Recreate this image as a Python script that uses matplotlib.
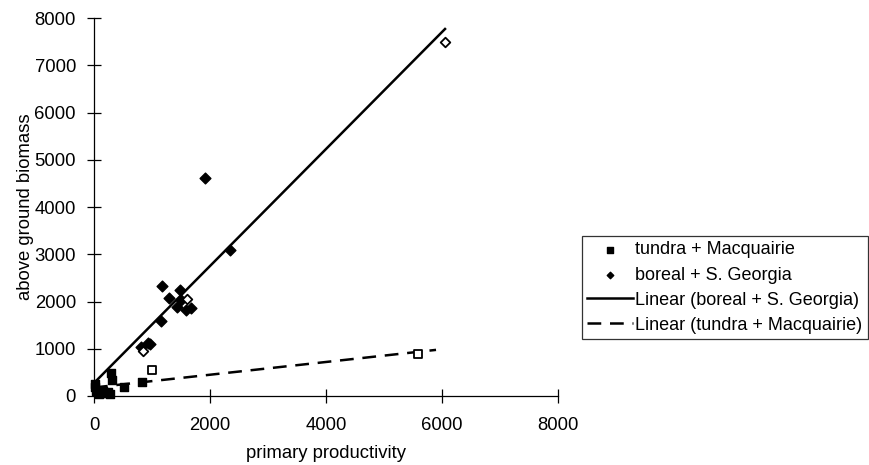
import matplotlib
matplotlib.use("Agg")
import matplotlib.pyplot as plt
import numpy as np

plt.rcParams['font.family'] = ['Liberation Sans', 'DejaVu Sans']

# data
tundra_x = [10, 20, 40, 80, 120, 150, 200, 250, 280, 300, 305, 510, 830]
tundra_y = [250, 180, 100, 50, 60, 100, 60, 90, 40, 480, 340, 200, 300]
tundra_open_x = [1000, 5590]
tundra_open_y = [550, 880]

boreal_x = [1914, 2350, 1172, 1477, 1299, 1500, 1431, 1586, 1672, 1155, 931, 960, 805]
boreal_y = [4620, 3090, 2335, 2250, 2067, 2040, 1884, 1820, 1855, 1580, 1128, 1090, 1044]
boreal_open_x = [1603, 839, 6052]
boreal_open_y = [2053, 946, 7500]

# linear trend lines: (intercept, slope, x_end)
boreal_fit = (275, 1.238, 6052)
tundra_fit = (180, 0.135, 5897)

x_ticks = [0, 2000, 4000, 6000, 8000]
y_ticks = [0, 1000, 2000, 3000, 4000, 5000, 6000, 7000, 8000]

fig = plt.figure(figsize=(8.7, 4.65), dpi=100)
ax = fig.add_axes([94/870, 1-396/465, (558-94)/870, (396-18)/465])

fs = 13.3
ax.scatter(tundra_x, tundra_y, marker='s', s=40, color='black', zorder=3,
           label='tundra + Macquairie', clip_on=False)
ax.scatter(boreal_x, boreal_y, marker='D', s=30, color='black', zorder=3,
           label='boreal + S. Georgia', clip_on=False)
ax.scatter(tundra_open_x, tundra_open_y, marker='s', s=40, facecolor='white',
           edgecolor='black', linewidth=1.3, zorder=3)
ax.scatter(boreal_open_x, boreal_open_y, marker='D', s=24, facecolor='white',
           edgecolor='black', linewidth=1.3, zorder=3)

bx = np.array([0, boreal_fit[2]])
ax.plot(bx, boreal_fit[0] + boreal_fit[1]*bx, color='black', lw=1.8,
        label='Linear (boreal + S. Georgia)', zorder=2)
tx = np.array([0, tundra_fit[2]])
ax.plot(tx, tundra_fit[0] + tundra_fit[1]*tx, color='black', lw=1.8,
        dashes=(5.5, 3.5), label='Linear (tundra + Macquairie)', zorder=2)

ax.set_xlim(0, 8000)
ax.set_ylim(0, 8000)
ax.set_xticks(x_ticks)
ax.set_yticks(y_ticks)
ax.tick_params(direction='inout', length=10, width=0.9, labelsize=fs)
ax.tick_params(axis='x', pad=10)
ax.tick_params(axis='y', pad=8)
for s in ['top', 'right']:
    ax.spines[s].set_visible(False)
for s in ['left', 'bottom']:
    ax.spines[s].set_linewidth(0.9)
ax.set_xlabel('primary productivity', fontsize=fs, labelpad=8)
ax.set_ylabel('above ground biomass', fontsize=fs, labelpad=0)

h, l = ax.get_legend_handles_labels()
leg = fig.legend(h, l,
                 loc='upper left', bbox_to_anchor=(582/870, 1-236/465),
                 fontsize=13, frameon=True, fancybox=False, edgecolor='black',
                 handlelength=2.5, handletextpad=0.15, labelspacing=0.45,
                 borderpad=0.3, borderaxespad=0, markerscale=0.6)
leg.get_frame().set_linewidth(0.9)

fig.savefig('out.png', dpi=100)
